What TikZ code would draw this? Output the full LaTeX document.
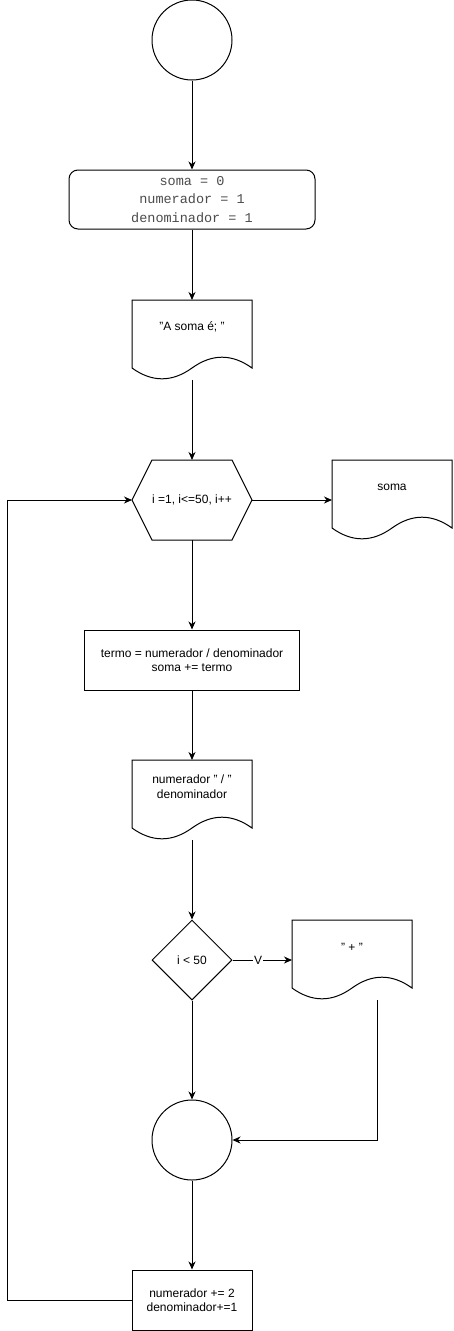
\documentclass[tikz,border=0pt]{standalone}
\usepackage{fontspec}
\setmainfont{Liberation Sans}
\newfontfamily\monofont{Liberation Mono}
\usetikzlibrary{calc,arrows.meta,shapes.geometric}

\newcommand\docpath[1]{%
 \draw[shapeline] let \p1=(#1.north west), \p2=(#1.south east), \n1={\x2-\x1}, \n2={\y1-\y2} in
  (\x1,\y1) -- (\x2,\y1) -- (\x2,{\y2+0.15*\n2})
  .. controls ({\x1+0.8333*\n1},{\y2+0.33*\n2}) and ({\x1+0.6667*\n1},{\y2+0.33*\n2}) .. ({\x1+0.5*\n1},{\y2+0.15*\n2})
  .. controls ({\x1+0.3333*\n1},{\y2-0.03*\n2}) and ({\x1+0.1667*\n1},{\y2-0.03*\n2}) .. (\x1,{\y2+0.15*\n2}) -- cycle;}

\newcommand\hexpath[1]{%
 \draw[shapeline] let \p1=(#1.north west), \p2=(#1.south east), \n1={(\x2-\x1)/6} in
  (\x1,{(\y1+\y2)/2}) -- ({\x1+\n1},\y1) -- ({\x2-\n1},\y1) -- (\x2,{(\y1+\y2)/2})
  -- ({\x2-\n1},\y2) -- ({\x1+\n1},\y2) -- cycle;}

\begin{document}
\begin{tikzpicture}[x=1pt,y=-1pt,
 shapeline/.style={draw=black, line width=1pt},
 conn/.style={draw=black, line width=1pt, -{Stealth[length=8pt,width=7pt,inset=2.5pt]}},
 txt/.style={font=\fontsize{12}{14.5}\selectfont, align=center},
 docbox/.style={rectangle, inner sep=0pt, outer sep=0pt, minimum width=120pt, minimum height=80pt},
 procbox/.style={shapeline, rectangle, inner sep=0pt, txt}]

\fill[white] (0,0) rectangle (453,1331);
\useasboundingbox (0,0) rectangle (453,1331);

\node[circle, shapeline, minimum size=80pt, inner sep=0pt] (start) at (192,40) {};

\node[shapeline, rounded corners=9pt, minimum width=246pt, minimum height=59pt, inner sep=0pt,
      font=\monofont\fontsize{13.5}{18.5}\selectfont, text=black!70, align=center]
      (init) at (192,199.5) {soma = 0\\numerador = 1\\denominador = 1};

\node[docbox, label={[txt,yshift=13pt]center:"A soma é; "}] (out1) at (192,340) {};
\docpath{out1}

\node[docbox, txt] (loop) at (192,500) {i =1, i<=50, i++};
\hexpath{loop}

\node[docbox, label={[txt,yshift=13pt]center:soma}] (outsoma) at (392,500) {};
\docpath{outsoma}

\node[procbox, minimum width=215pt, minimum height=60pt] (termo) at (192,660)
      {termo = numerador / denominador\\soma += termo};

\node[docbox, label={[txt,yshift=13.5pt]center:{numerador " / "\\denominador}}] (out2) at (192,800) {};
\docpath{out2}

\node[diamond, shapeline, minimum width=80pt, minimum height=80pt, inner sep=0pt, txt] (cond) at (192,960) {i < 50};

\node[docbox, label={[txt,yshift=13pt]center:" + "}] (out3) at (352,960) {};
\docpath{out3}

\node[circle, shapeline, minimum size=80pt, inner sep=0pt] (merge) at (192,1140) {};

\node[procbox, minimum width=120pt, minimum height=60pt] (inc) at (192,1300)
      {numerador += 2\\denominador+=1};

\coordinate (out3exit) at (377,1000);
\coordinate (leftcol) at (7,500);

\draw[conn] (start.south) -- (init.north);
\draw[conn] (init.south) -- (out1.north);
\draw[conn] (out1.south) -- (loop.north);
\draw[conn] (loop.east) -- (outsoma.west);
\draw[conn] (loop.south) -- (termo.north);
\draw[conn] (termo.south) -- (out2.north);
\draw[conn] (out2.south) -- (cond.north);
\draw[conn] (cond.east) -- node[txt, fill=white, inner sep=1pt, pos=0.43] {V} (out3.west);
\draw[conn] (cond.south) -- (merge.north);
\draw[conn] (out3exit) |- (merge.east);
\draw[conn] (merge.south) -- (inc.north);
\draw[conn] (inc.west) -| (leftcol) -- (loop.west);
\end{tikzpicture}
\end{document}
